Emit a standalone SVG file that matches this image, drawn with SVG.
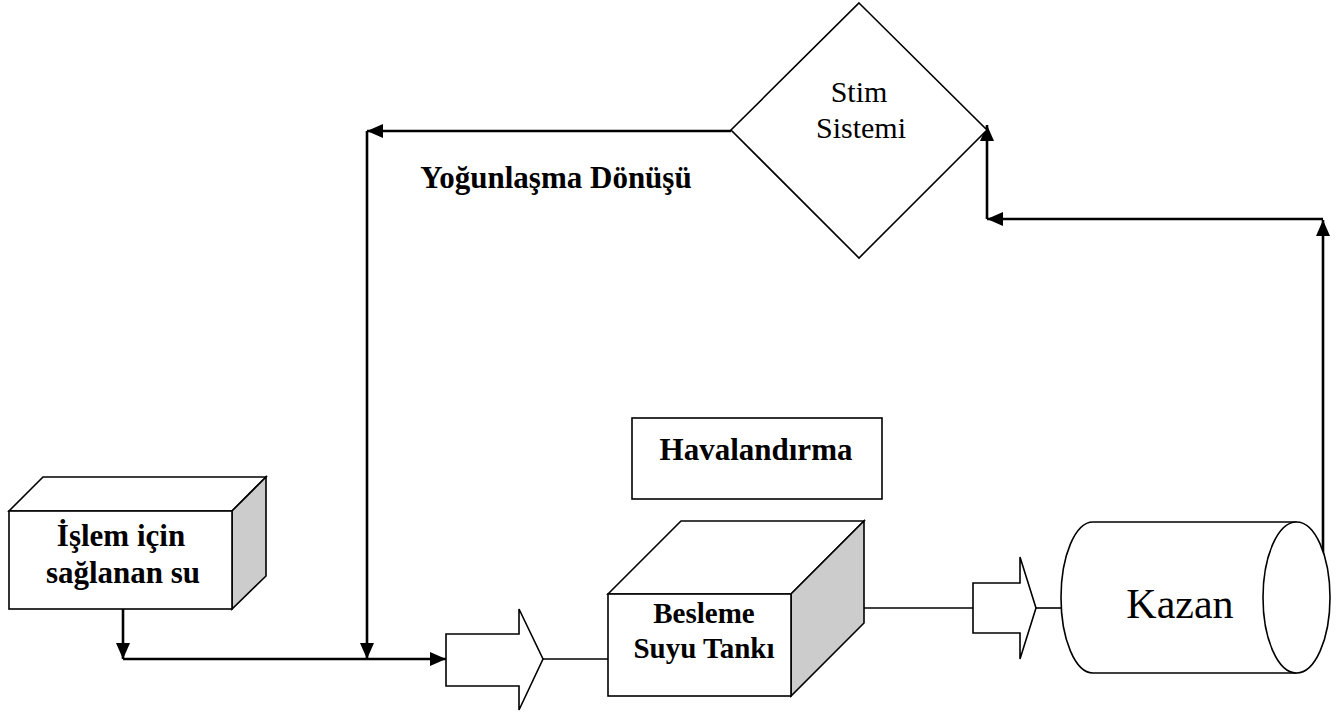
<svg xmlns="http://www.w3.org/2000/svg" width="1343" height="713" viewBox="0 0 1343 713">
<style>
.shape{fill:#fff;stroke:#000;stroke-width:1.6}
.side{fill:#cccccc;stroke:#000;stroke-width:1.6}
.conn{fill:none;stroke:#000;stroke-width:2.6}
.thin{fill:none;stroke:#000;stroke-width:1.6}
.b{font-family:"Liberation Serif","Times New Roman",serif;font-weight:bold;text-anchor:middle;fill:#000}
.r{font-family:"Liberation Serif","Times New Roman",serif;text-anchor:middle;fill:#000}
</style>
<defs>
<marker id="ah" markerUnits="userSpaceOnUse" markerWidth="16" markerHeight="14" refX="16" refY="7" orient="auto">
<path d="M0,0 L16,7 L0,14 z" fill="#000"/>
</marker>
</defs>
<rect width="1343" height="713" fill="#fff"/>
<g id="connectors">
<path class="conn" d="M731,131 L367,131" marker-end="url(#ah)"/>
<path class="conn" d="M367,131 L367,659" marker-end="url(#ah)"/>
<path class="conn" d="M123,609 L123,659" marker-end="url(#ah)"/>
<path class="conn" d="M123,659 L446,659" marker-end="url(#ah)"/>
<path class="thin" d="M543,659 L608,659"/>
<path class="thin" d="M864,608 L973,608"/>
<path class="thin" d="M1036,608 L1061,608"/>
<path class="conn" d="M1323,557 L1323,220" marker-end="url(#ah)"/>
<path class="conn" d="M1323,219 L987,219" marker-end="url(#ah)"/>
<path class="conn" d="M987,219 L987,125" marker-end="url(#ah)"/>
</g>
<g id="stim">
<polygon class="shape" points="859,3 987,130 859,258 731,130"/>
<text class="r" x="859" y="102" font-size="30">Stim</text>
<text class="r" x="861" y="138" font-size="30">Sistemi</text>
</g>
<g id="yogunlasma-label">
<text class="b" x="556" y="188" font-size="31">Yoğunlaşma Dönüşü</text>
</g>
<g id="havalandirma">
<rect class="shape" x="632" y="418" width="250" height="81"/>
<text class="b" x="756" y="460" font-size="31">Havalandırma</text>
</g>
<g id="islem">
<polygon class="shape" points="9,511 43,477 266,477 232,511"/>
<polygon class="side" points="232,511 266,477 266,576 232,609"/>
<rect class="shape" x="9" y="511" width="223" height="98"/>
<text class="b" x="121" y="546" font-size="31">İşlem için</text>
<text class="b" x="123" y="583" font-size="31">sağlanan su</text>
</g>
<g id="arrow1">
<polygon class="shape" points="446,634 519,634 519,609 543,659 519,710 519,686 446,686"/>
</g>
<g id="besleme">
<polygon class="shape" points="608,594 681,521 864,521 791,594"/>
<polygon class="side" points="791,594 864,521 864,623 791,696"/>
<rect class="shape" x="608" y="594" width="183" height="102"/>
<text class="b" x="704" y="623" font-size="29">Besleme</text>
<text class="b" x="704" y="658" font-size="29">Suyu Tankı</text>
</g>
<g id="arrow2">
<polygon class="shape" points="973,583 1020,583 1020,557 1036,608 1020,659 1020,633 973,633"/>
</g>
<g id="kazan">
<path class="shape" d="M1093,522 L1296,522 L1296,673 L1093,673 A32,75.5 0 0 1 1093,522 Z"/>
<ellipse class="shape" cx="1296.5" cy="597.5" rx="33.5" ry="75.5"/>
<text class="r" x="1180" y="618" font-size="42">Kazan</text>
</g>
</svg>
